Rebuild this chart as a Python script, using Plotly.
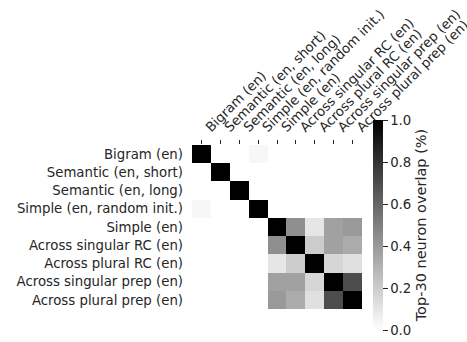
import plotly.graph_objects as go

labels = [
    "Bigram (en)",
    "Semantic (en, short)",
    "Semantic (en, long)",
    "Simple (en, random init.)",
    "Simple (en)",
    "Across singular RC (en)",
    "Across plural RC (en)",
    "Across singular prep (en)",
    "Across plural prep (en)",
]

overlap = [
    [1.00, 0.00, 0.00, 0.03, 0.00, 0.00, 0.00, 0.00, 0.00],
    [0.00, 1.00, 0.00, 0.00, 0.00, 0.00, 0.00, 0.00, 0.00],
    [0.00, 0.00, 1.00, 0.00, 0.00, 0.00, 0.00, 0.00, 0.00],
    [0.03, 0.00, 0.00, 1.00, 0.00, 0.00, 0.00, 0.00, 0.00],
    [0.00, 0.00, 0.00, 0.00, 1.00, 0.44, 0.10, 0.37, 0.40],
    [0.00, 0.00, 0.00, 0.00, 0.44, 1.00, 0.20, 0.37, 0.33],
    [0.00, 0.00, 0.00, 0.00, 0.10, 0.20, 1.00, 0.16, 0.12],
    [0.00, 0.00, 0.00, 0.00, 0.37, 0.37, 0.16, 1.00, 0.70],
    [0.00, 0.00, 0.00, 0.00, 0.40, 0.33, 0.12, 0.70, 1.00],
]

cb_ticks = [0.0, 0.2, 0.4, 0.6, 0.8, 1.0]

idx = list(range(len(labels)))
FONT = "DejaVu Sans"
TXT = "#262626"
FS = 13.3
FS_TITLE = 14.5

fig = go.Figure()
fig.add_trace(go.Heatmap(
    z=overlap, x=idx, y=idx,
    zmin=0, zmax=1,
    colorscale=[[0, "white"], [1, "black"]],
    hoverinfo="skip",
    colorbar=dict(
        title=dict(text="Top-30 neuron overlap (%)", side="right",
                   font=dict(family=FONT, size=FS_TITLE, color=TXT)),
        thickness=10, lenmode="pixels", len=210,
        x=1.065, xanchor="left", y=0.512, yanchor="middle",
        xpad=0, ypad=0, outlinewidth=0,
        tickvals=cb_ticks, ticktext=[f"{t:.1f}" for t in cb_ticks],
        ticks="outside", ticklen=5, tickcolor=TXT, tickwidth=1,
        tickfont=dict(family=FONT, size=FS, color=TXT),
    ),
))

fig.update_layout(
    width=467, height=342,
    margin=dict(l=192, r=105, t=145, b=29),
    plot_bgcolor="white", paper_bgcolor="white",
    font=dict(family=FONT, size=FS, color=TXT),
    xaxis=dict(
        side="top", range=[-0.5, 8.5], tickvals=idx, ticktext=labels,
        tickangle=-45, ticks="outside", ticklen=4, tickcolor=TXT,
        ticklabelshift=5, ticklabeloverflow="allow",
        showgrid=False, zeroline=False, showline=False, automargin=False,
        tickfont=dict(family=FONT, size=FS, color=TXT),
    ),
    xaxis2=dict(
        overlaying="x", side="bottom", range=[-0.5, 8.5], tickvals=idx,
        showticklabels=False, ticks="outside", ticklen=5, tickcolor=TXT,
        showgrid=False, zeroline=False, showline=False, automargin=False,
    ),
    yaxis=dict(
        range=[8.5, -0.5], tickvals=idx, ticktext=labels,
        ticks="", showgrid=False, zeroline=False, showline=False,
        ticklabelstandoff=8, automargin=False,
        tickfont=dict(family=FONT, size=FS, color=TXT),
    ),
)

fig.write_html(
    "out.html",
    config={"displayModeBar": False},
    post_script="document.body.style.margin='0';document.body.style.overflow='hidden';",
)
